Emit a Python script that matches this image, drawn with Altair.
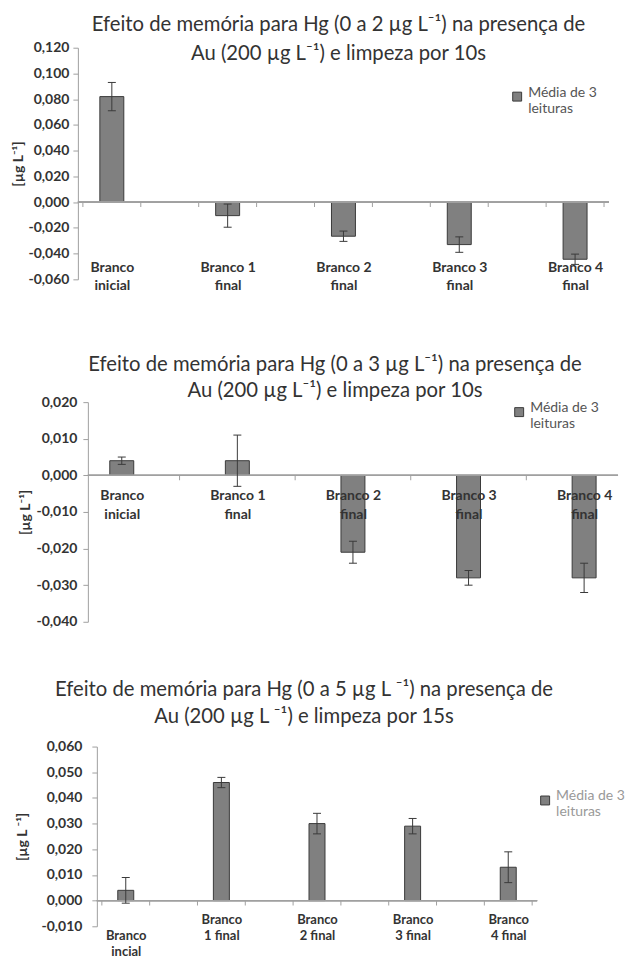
import json
import altair as alt
import pandas as pd

# ---------------- data ----------------
LEGEND_LINES = ["Média de 3", "leituras"]

titles_1 = ["Efeito de memória para Hg (0 a 2 µg L⁻¹) na presença de",
            "Au (200 µg L⁻¹) e limpeza por 10s"]
labels_1 = [["Branco", "inicial"], ["Branco 1", "final"], ["Branco 2", "final"],
            ["Branco 3", "final"], ["Branco 4", "final"]]
means_1 = [0.082, -0.0105, -0.0265, -0.033, -0.0444]
errs_1 = [0.011, 0.009, 0.004, 0.006, 0.004]
yticks_1 = [-0.06, -0.04, -0.02, 0.0, 0.02, 0.04, 0.06, 0.08, 0.10, 0.12]

titles_2 = ["Efeito de memória para Hg (0 a 3 µg L⁻¹) na presença de",
            "Au (200 µg L⁻¹) e limpeza por 10s"]
labels_2 = [["Branco", "inicial"], ["Branco 1", "final"], ["Branco 2", "final"],
            ["Branco 3", "final"], ["Branco 4", "final"]]
means_2 = [0.004, 0.004, -0.021, -0.028, -0.028]
errs_2 = [0.001, 0.007, 0.003, 0.002, 0.004]
yticks_2 = [-0.04, -0.03, -0.02, -0.01, 0.0, 0.01, 0.02]

titles_3 = ["Efeito de memória para Hg (0 a 5 µg L ⁻¹) na presença de",
            "Au (200 µg L ⁻¹) e limpeza por 15s"]
labels_3 = [["", "Branco", "incial"], ["Branco", "1 final"], ["Branco", "2 final"],
            ["Branco", "3 final"], ["Branco", "4 final"]]
means_3 = [0.004, 0.046, 0.030, 0.029, 0.013]
errs_3 = [0.005, 0.002, 0.004, 0.003, 0.006]
yticks_3 = [-0.01, 0.0, 0.01, 0.02, 0.03, 0.04, 0.05, 0.06]

FONT = "Lato"
BAR_FILL = "#808080"
DARK = "#3a3a3a"
AXIS_GREY = "#a0a0a0"
TEXT = "#333333"

Y_LABEL_EXPR = ("(datum.value < 0 ? '-' : '') + "
                "replace(format(abs(datum.value), '.3f'), '.', ',')")


def panel(titles, labels, means, errs, yticks, width, height, *, title_dx,
          title_offset, title_lh, ytitle, ytitle_pad, ylabel_pad, label_pad,
          label_size, label_lh, bar_size, ticks_between, legend_x, legend_y,
          legend_color):
    n = len(labels)
    slots = 2 * n - 1
    df = pd.DataFrame({
        "x": [2 * i + 0.5 for i in range(n)],
        "mean": means,
        "lo": [m - e for m, e in zip(means, errs)],
        "hi": [m + e for m, e in zip(means, errs)],
        "serie": [" ".join(LEGEND_LINES)] * n,
    })
    if ticks_between:
        tick_vals = list(range(0, slots + 1))
    else:
        tick_vals = [2 * i + 1.5 for i in range(n - 1)]
    tick_df = pd.DataFrame({"t": tick_vals})

    xscale = alt.Scale(domain=[0, slots], nice=False, zero=False)
    yscale = alt.Scale(domain=[yticks[0], yticks[-1]], nice=False, zero=False)

    label_expr = json.dumps(labels, ensure_ascii=False) + "[floor(datum.value / 2)]"
    xaxis = alt.Axis(values=list(df["x"]), labelExpr=label_expr, domain=False,
                     ticks=False, grid=False, title=None, labelPadding=label_pad,
                     labelFontSize=label_size, labelLineHeight=label_lh,
                     labelAlign="center", labelBaseline="top", labelFlush=False,
                     labelOverlap=False, labelBound=False, zindex=1)
    yaxis = alt.Axis(values=yticks, labelExpr=Y_LABEL_EXPR, grid=False,
                     title=ytitle, titlePadding=ytitle_pad, titleFontSize=14,
                     titleFontWeight="bold", titleColor=TEXT, tickSize=5,
                     labelPadding=ylabel_pad, labelOverlap=False,
                     labelFlush=False, labelBound=False, labelSeparation=0)

    def X(field):
        return alt.X(field, type="quantitative", scale=xscale, axis=xaxis)

    def Y(field):
        return alt.Y(field, type="quantitative", scale=yscale, axis=yaxis)

    base = alt.Chart(df)

    zero = alt.Chart(df).mark_rule(color=AXIS_GREY, strokeWidth=1.2).encode(
        y=alt.YDatum(0, scale=yscale, axis=yaxis))
    zticks = alt.Chart(tick_df).mark_tick(
        orient="vertical", size=5, thickness=1, color=AXIS_GREY, opacity=1,
        yOffset=2.5).encode(
        x=X("t"), y=alt.YDatum(0, scale=yscale, axis=yaxis))

    bars = base.mark_bar(size=bar_size, stroke=DARK, strokeWidth=1,
                         opacity=1).encode(
        x=X("x"),
        y=alt.Y("mean:Q", scale=yscale, axis=yaxis, stack=None),
        y2=alt.datum(0),
        color=alt.Color("serie:N", scale=alt.Scale(range=[BAR_FILL]),
                        legend=alt.Legend(
                            title=None, orient="none", legendX=legend_x,
                            legendY=legend_y, symbolType="square",
                            symbolSize=80, symbolFillColor=BAR_FILL,
                            symbolStrokeColor=DARK, symbolStrokeWidth=1,
                            labelExpr=json.dumps(LEGEND_LINES, ensure_ascii=False),
                            labelFont=FONT, labelFontSize=14,
                            labelColor=legend_color, labelLimit=0,
                            labelBaseline="alphabetic", labelOffset=4)))
    rule = base.mark_rule(color=DARK, strokeWidth=1).encode(
        x=X("x"), y=Y("lo"), y2="hi:Q")
    cap_lo = base.mark_tick(orient="horizontal", size=8, thickness=1,
                            color=DARK, opacity=1).encode(x=X("x"), y=Y("lo"))
    cap_hi = base.mark_tick(orient="horizontal", size=8, thickness=1,
                            color=DARK, opacity=1).encode(x=X("x"), y=Y("hi"))

    return alt.layer(bars, zero, zticks, rule, cap_lo, cap_hi).properties(
        width=width, height=height,
        title=alt.Title(text=titles, dx=title_dx, offset=title_offset,
                        anchor="middle", lineHeight=title_lh))


def spacer(w):
    return alt.Chart(pd.DataFrame({"s": [0]})).mark_rect(opacity=0).encode(
        x=alt.value(0), x2=alt.value(w), y=alt.value(0), y2=alt.value(1)
    ).properties(width=w, height=1)


p1 = panel(titles_1, labels_1, means_1, errs_1, yticks_1, 532, 232,
           title_dx=-5, title_offset=-24, title_lh=29, ytitle="[µg L⁻¹]",
           ytitle_pad=2, ylabel_pad=4, label_pad=-19, label_size=14,
           label_lh=18, bar_size=24, ticks_between=True,
           legend_x=433, legend_y=42, legend_color="#555555")
p2 = panel(titles_2, labels_2, means_2, errs_2, yticks_2, 531, 220,
           title_dx=-18, title_offset=-6, title_lh=26, ytitle="[µg L⁻¹]",
           ytitle_pad=3, ylabel_pad=6, label_pad=-133, label_size=14,
           label_lh=19, bar_size=24, ticks_between=False,
           legend_x=425, legend_y=3, legend_color="#555555")
p3 = panel(titles_3, labels_3, means_3, errs_3, yticks_3, 441, 180,
           title_dx=-13, title_offset=12, title_lh=27, ytitle="[µg L ⁻¹]",
           ytitle_pad=11, ylabel_pad=10, label_pad=-13, label_size=13,
           label_lh=16, bar_size=16, ticks_between=True,
           legend_x=442, legend_y=47, legend_color="#999999")

row1 = alt.hconcat(spacer(2), p1, spacing=0).resolve_scale(color="independent")
row2 = alt.hconcat(spacer(9), p2, spacing=0).resolve_scale(color="independent")
row3 = alt.hconcat(spacer(6), p3, spacing=0).resolve_scale(color="independent")

inner = alt.vconcat(row2, row3, spacing=51).resolve_scale(color="independent")
chart = alt.vconcat(row1, inner, spacing=62).resolve_scale(
    color="independent"
).properties(
    padding={"left": 2, "top": 6, "right": 0, "bottom": 0}
).configure_view(strokeWidth=0).configure_axis(
    domainColor=AXIS_GREY, tickColor=AXIS_GREY, labelColor=TEXT, labelFont=FONT,
    labelFontWeight="bold", labelFontSize=14, titleFont=FONT
).configure_axisY(labelOverlap=False).configure_title(
    font=FONT, fontSize=20.3, fontWeight="normal", color=TEXT
).configure_legend(labelFont=FONT)

chart.save("out.html", embed_options={"renderer": "svg", "actions": False})
